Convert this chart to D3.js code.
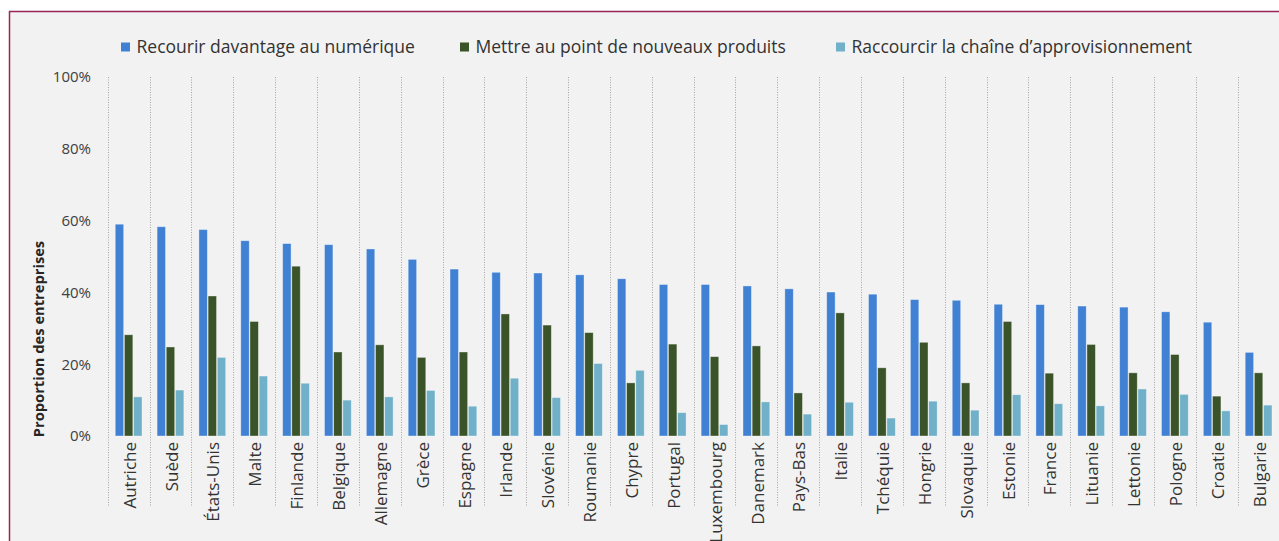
<!DOCTYPE html>
<html>
<head>
<meta charset="utf-8">
<script src="https://cdn.jsdelivr.net/npm/d3@7"></script>
<style>
  html, body { margin: 0; padding: 0; background: #ffffff; }
  svg { display: block; font-family: "Open Sans", "Noto Sans", sans-serif; }
</style>
</head>
<body>
<svg id="chart" width="1279" height="541"></svg>
<script>
// Pays, triés par la part « Recourir davantage au numérique »
const categories = ["Autriche", "Suède", "États-Unis", "Malte", "Finlande", "Belgique", "Allemagne", "Grèce",
  "Espagne", "Irlande", "Slovénie", "Roumanie", "Chypre", "Portugal", "Luxembourg", "Danemark", "Pays-Bas",
  "Italie", "Tchéquie", "Hongrie", "Slovaquie", "Estonie", "France", "Lituanie", "Lettonie", "Pologne",
  "Croatie", "Bulgarie"];

const seriesNames = ["Recourir davantage au numérique", "Mettre au point de nouveaux produits",
  "Raccourcir la chaîne d’approvisionnement"];

// Proportion des entreprises (%)
const numerique = [59.0, 58.3, 57.5, 54.4, 53.6, 53.3, 52.1, 49.2, 46.5, 45.6, 45.4, 44.9, 43.8, 42.2,
  42.2, 41.8, 41.0, 40.1, 39.5, 38.0, 37.8, 36.7, 36.6, 36.2, 35.9, 34.6, 31.7, 23.3];
const nouveauxProduits = [28.2, 24.8, 39.0, 31.9, 47.3, 23.4, 25.4, 21.9, 23.4, 34.0, 30.9, 28.8, 14.8, 25.6,
  22.1, 25.1, 12.0, 34.3, 19.0, 26.1, 14.8, 31.9, 17.5, 25.5, 17.6, 22.7, 11.1, 17.6];
const chaineAppro = [10.9, 12.8, 21.9, 16.7, 14.7, 10.0, 10.9, 12.7, 8.3, 16.1, 10.7, 20.2, 18.3, 6.5,
  3.2, 9.5, 6.1, 9.4, 5.0, 9.7, 7.2, 11.5, 9.0, 8.4, 13.1, 11.6, 7.0, 8.6];

const yTicks = [0, 20, 40, 60, 80, 100];
const yTickLabels = ["0%", "20%", "40%", "60%", "80%", "100%"];
const yTitle = "Proportion des entreprises";

const colors = ["#4181d4", "#3a5328", "#70b0c8"];
const seriesValues = [numerique, nouveauxProduits, chaineAppro];

const svg = d3.select("#chart");

// Cadre
svg.append("rect")
  .attr("x", 9.5).attr("y", 11.5)
  .attr("width", 1300).attr("height", 600)
  .attr("fill", "#f2f2f2")
  .attr("stroke", "#9a2558")
  .attr("stroke-width", 1.5);

const x0 = d3.scaleBand().domain(categories).range([107.7, 1279.5]).paddingInner(0).paddingOuter(0);
const bw = x0.bandwidth();
const x1 = d3.scaleBand().domain(d3.range(3)).range([bw * 0.18, bw * 0.82]).paddingInner(0.08);
const y = d3.scaleLinear().domain([0, 100]).range([436, 77]);

// Séparateurs pointillés entre les pays
svg.append("g").selectAll("line")
  .data(categories)
  .join("line")
  .attr("x1", d => Math.round(x0(d)) + 0.5)
  .attr("x2", d => Math.round(x0(d)) + 0.5)
  .attr("y1", y(100))
  .attr("y2", 507)
  .attr("stroke", "#a6a6a6")
  .attr("stroke-width", 1)
  .attr("stroke-dasharray", "1,1.5");

// Axe vertical
const yAxis = d3.axisLeft(y).tickValues(yTicks)
  .tickFormat((d, i) => yTickLabels[i]).tickSize(0).tickPadding(0);
const gy = svg.append("g").attr("transform", "translate(91,0)").call(yAxis);
gy.select(".domain").remove();
gy.selectAll("text")
  .attr("fill", "#404040")
  .style("font-size", "15px")
  .style("font-family", "'Open Sans', sans-serif");

svg.append("text")
  .attr("transform", "translate(44,339) rotate(-90)")
  .attr("text-anchor", "middle")
  .attr("fill", "#262626")
  .style("font-size", "14.7px")
  .style("font-weight", "bold")
  .text(yTitle);

// Barres
const rows = categories.map((c, i) => ({ c, vals: seriesValues.map(s => s[i]) }));
const groups = svg.append("g").selectAll("g")
  .data(rows)
  .join("g")
  .attr("transform", d => `translate(${x0(d.c)},0)`);

groups.selectAll("rect")
  .data(d => d.vals.map((v, k) => ({ v, k })))
  .join("rect")
  .attr("x", d => x1(d.k))
  .attr("y", d => y(d.v))
  .attr("width", x1.bandwidth())
  .attr("height", d => y(0) - y(d.v))
  .attr("fill", d => colors[d.k])
  .attr("stroke", "#ffffff")
  .attr("stroke-opacity", 0.45)
  .attr("stroke-width", 0.8);

// Étiquettes des pays
svg.append("g").selectAll("text")
  .data(categories)
  .join("text")
  .attr("transform", d => `translate(${x0(d) + bw / 2},442) rotate(-90)`)
  .attr("text-anchor", "end")
  .attr("dy", "0.42em")
  .attr("fill", "#333333")
  .style("font-size", "17px")
  .text(d => d);

// Légende
const legendX = [121, 460, 836];
const legend = svg.append("g").selectAll("g")
  .data(seriesNames)
  .join("g")
  .attr("transform", (d, i) => `translate(${legendX[i]},47)`);
legend.append("rect")
  .attr("x", 0).attr("y", -4.5)
  .attr("width", 9).attr("height", 9)
  .attr("fill", (d, i) => colors[i]);
legend.append("text")
  .attr("x", 15.5)
  .attr("dy", "0.35em")
  .attr("fill", "#333333")
  .style("font-size", "17.5px")
  .text(d => d);
</script>
</body>
</html>
